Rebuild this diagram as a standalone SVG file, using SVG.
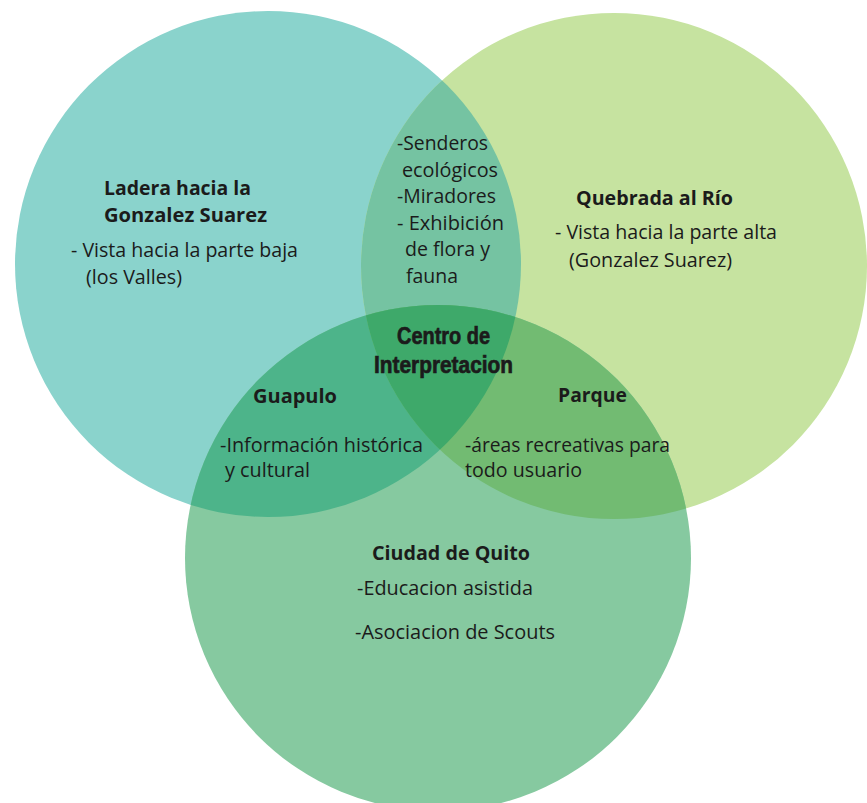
<svg xmlns="http://www.w3.org/2000/svg" width="867" height="803" viewBox="0 0 867 803">
  <style>
    text { font-family: "Open Sans", "Liberation Sans", sans-serif; fill: #1b1b1b; }
    .r { font-size: 20px; font-weight: 400; }
    .b { font-size: 20px; font-weight: 700; }
    .bc { font-family: "Liberation Sans", "Open Sans", sans-serif; font-size: 24px; font-weight: 700; stroke: #1b1b1b; stroke-width: 0.7px; }
  </style>
  <defs>
    <clipPath id="clipA"><circle cx="268" cy="264" r="253"/></clipPath>
    <clipPath id="clipB"><circle cx="614" cy="266" r="253"/></clipPath>
  </defs>
  <rect width="867" height="803" fill="#ffffff"/>
  <g id="circles">
    <circle id="circle-ladera" cx="268" cy="264" r="253" fill="#8AD3CC"/>
    <circle id="circle-quebrada" cx="614" cy="266" r="253" fill="#C6E3A0"/>
    <circle id="circle-quito" cx="438" cy="558" r="253" fill="#86C9A0"/>
    <g clip-path="url(#clipA)"><circle cx="614" cy="266" r="253" fill="#75C3A2"/></g>
    <g clip-path="url(#clipA)"><circle cx="438" cy="558" r="253" fill="#4DB48A"/></g>
    <g clip-path="url(#clipB)"><circle cx="438" cy="558" r="253" fill="#72BB72"/></g>
    <g clip-path="url(#clipA)"><g clip-path="url(#clipB)"><circle cx="438" cy="558" r="253" fill="#3EA96A"/></g></g>
  </g>
  <g id="connectors"></g>
  <g id="node-ladera">
    <text class="b" x="104" y="195" textLength="147" lengthAdjust="spacingAndGlyphs">Ladera hacia la</text>
    <text class="b" x="104" y="222" textLength="163" lengthAdjust="spacingAndGlyphs">Gonzalez Suarez</text>
    <text class="r" x="71" y="257" textLength="227" lengthAdjust="spacingAndGlyphs">- Vista hacia la parte baja</text>
    <text class="r" x="86" y="284" textLength="96" lengthAdjust="spacingAndGlyphs">(los Valles)</text>
  </g>
  <g id="node-quebrada">
    <text class="b" x="576" y="205" textLength="157" lengthAdjust="spacingAndGlyphs">Quebrada al Río</text>
    <text class="r" x="555" y="239" textLength="222" lengthAdjust="spacingAndGlyphs">- Vista hacia la parte alta</text>
    <text class="r" x="569" y="267" textLength="163" lengthAdjust="spacingAndGlyphs">(Gonzalez Suarez)</text>
  </g>
  <g id="node-senderos">
    <text class="r" x="397" y="150" textLength="91" lengthAdjust="spacingAndGlyphs">-Senderos</text>
    <text class="r" x="402" y="177" textLength="96" lengthAdjust="spacingAndGlyphs">ecológicos</text>
    <text class="r" x="397" y="203" textLength="99" lengthAdjust="spacingAndGlyphs">-Miradores</text>
    <text class="r" x="397" y="230" textLength="107" lengthAdjust="spacingAndGlyphs">- Exhibición</text>
    <text class="r" x="405" y="256" textLength="85" lengthAdjust="spacingAndGlyphs">de flora y</text>
    <text class="r" x="406" y="283" textLength="52" lengthAdjust="spacingAndGlyphs">fauna</text>
  </g>
  <g id="node-centro">
    <text class="bc" x="397" y="344" textLength="93" lengthAdjust="spacingAndGlyphs">Centro de</text>
    <text class="bc" x="374" y="373" textLength="139" lengthAdjust="spacingAndGlyphs">Interpretacion</text>
  </g>
  <g id="node-guapulo">
    <text class="b" x="253" y="403" textLength="84" lengthAdjust="spacingAndGlyphs">Guapulo</text>
    <text class="r" x="220" y="452" textLength="203" lengthAdjust="spacingAndGlyphs">-Información histórica</text>
    <text class="r" x="225" y="477" textLength="85" lengthAdjust="spacingAndGlyphs">y cultural</text>
  </g>
  <g id="node-parque">
    <text class="b" x="558" y="402" textLength="69" lengthAdjust="spacingAndGlyphs">Parque</text>
    <text class="r" x="465" y="452" textLength="205" lengthAdjust="spacingAndGlyphs">-áreas recreativas para</text>
    <text class="r" x="465" y="477" textLength="117" lengthAdjust="spacingAndGlyphs">todo usuario</text>
  </g>
  <g id="node-quito">
    <text class="b" x="372" y="560" textLength="158" lengthAdjust="spacingAndGlyphs">Ciudad de Quito</text>
    <text class="r" x="357" y="595" textLength="176" lengthAdjust="spacingAndGlyphs">-Educacion asistida</text>
    <text class="r" x="355" y="639" textLength="200" lengthAdjust="spacingAndGlyphs">-Asociacion de Scouts</text>
  </g>
</svg>
